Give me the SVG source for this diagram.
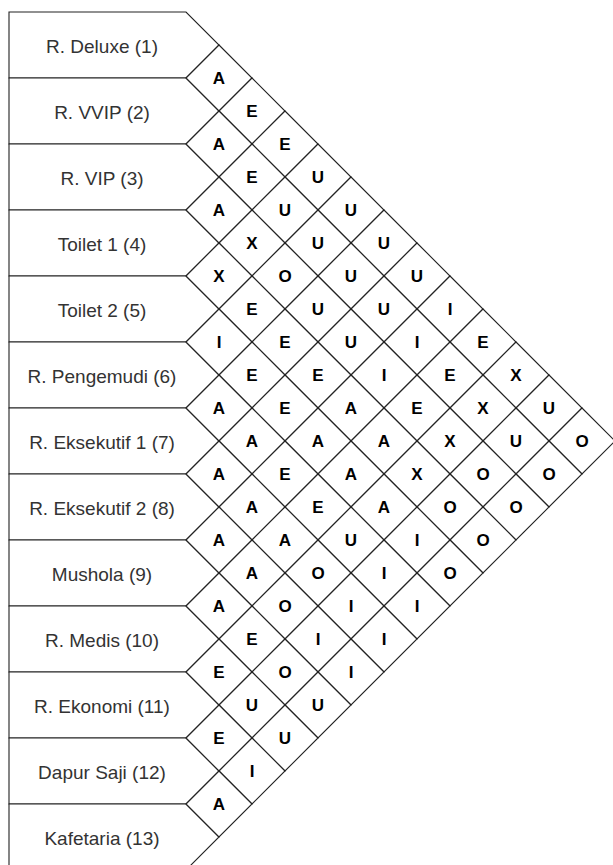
<svg xmlns="http://www.w3.org/2000/svg" xmlns:xlink="http://www.w3.org/1999/xlink" width="613" height="865" viewBox="0 0 613 865">
<style>
.shape{fill:#fff;stroke:#222;stroke-width:1.1}
.lbl{font-family:"Liberation Sans",Arial,sans-serif;font-size:19px;fill:#333;text-anchor:middle}
.rel{font-family:"Liberation Sans",Arial,sans-serif;font-size:17px;font-weight:bold;fill:#000;text-anchor:middle}
</style>
<defs>
<path id="row" d="M0,0 H177 L210,33 L177,66 H0 Z"/>
<path id="d" d="M0,-33 L33,0 L0,33 L-33,0 Z"/>
</defs>
<rect width="613" height="865" fill="#fff"/>
<g id="rooms">
<g id="room-1"><use href="#row" class="shape" x="9" y="12"/><text class="lbl" x="102" y="53">R. Deluxe (1)</text></g>
<g id="room-2"><use href="#row" class="shape" x="9" y="78"/><text class="lbl" x="102" y="119">R. VVIP (2)</text></g>
<g id="room-3"><use href="#row" class="shape" x="9" y="144"/><text class="lbl" x="102" y="185">R. VIP (3)</text></g>
<g id="room-4"><use href="#row" class="shape" x="9" y="210"/><text class="lbl" x="102" y="251">Toilet 1 (4)</text></g>
<g id="room-5"><use href="#row" class="shape" x="9" y="276"/><text class="lbl" x="102" y="317">Toilet 2 (5)</text></g>
<g id="room-6"><use href="#row" class="shape" x="9" y="342"/><text class="lbl" x="102" y="383">R. Pengemudi (6)</text></g>
<g id="room-7"><use href="#row" class="shape" x="9" y="408"/><text class="lbl" x="102" y="449">R. Eksekutif 1 (7)</text></g>
<g id="room-8"><use href="#row" class="shape" x="9" y="474"/><text class="lbl" x="102" y="515">R. Eksekutif 2 (8)</text></g>
<g id="room-9"><use href="#row" class="shape" x="9" y="540"/><text class="lbl" x="102" y="581">Mushola (9)</text></g>
<g id="room-10"><use href="#row" class="shape" x="9" y="606"/><text class="lbl" x="102" y="647">R. Medis (10)</text></g>
<g id="room-11"><use href="#row" class="shape" x="9" y="672"/><text class="lbl" x="102" y="713">R. Ekonomi (11)</text></g>
<g id="room-12"><use href="#row" class="shape" x="9" y="738"/><text class="lbl" x="102" y="779">Dapur Saji (12)</text></g>
<g id="room-13"><use href="#row" class="shape" x="9" y="804"/><text class="lbl" x="102" y="845">Kafetaria (13)</text></g>
</g>
<g id="relations">
<g id="c1-2"><use href="#d" class="shape" x="219" y="78"/><text class="rel" x="219" y="84">A</text></g>
<g id="c1-3"><use href="#d" class="shape" x="252" y="111"/><text class="rel" x="252" y="117">E</text></g>
<g id="c2-3"><use href="#d" class="shape" x="219" y="144"/><text class="rel" x="219" y="150">A</text></g>
<g id="c1-4"><use href="#d" class="shape" x="285" y="144"/><text class="rel" x="285" y="150">E</text></g>
<g id="c2-4"><use href="#d" class="shape" x="252" y="177"/><text class="rel" x="252" y="183">E</text></g>
<g id="c1-5"><use href="#d" class="shape" x="318" y="177"/><text class="rel" x="318" y="183">U</text></g>
<g id="c3-4"><use href="#d" class="shape" x="219" y="210"/><text class="rel" x="219" y="216">A</text></g>
<g id="c2-5"><use href="#d" class="shape" x="285" y="210"/><text class="rel" x="285" y="216">U</text></g>
<g id="c1-6"><use href="#d" class="shape" x="351" y="210"/><text class="rel" x="351" y="216">U</text></g>
<g id="c3-5"><use href="#d" class="shape" x="252" y="243"/><text class="rel" x="252" y="249">X</text></g>
<g id="c2-6"><use href="#d" class="shape" x="318" y="243"/><text class="rel" x="318" y="249">U</text></g>
<g id="c1-7"><use href="#d" class="shape" x="384" y="243"/><text class="rel" x="384" y="249">U</text></g>
<g id="c4-5"><use href="#d" class="shape" x="219" y="276"/><text class="rel" x="219" y="282">X</text></g>
<g id="c3-6"><use href="#d" class="shape" x="285" y="276"/><text class="rel" x="285" y="282">O</text></g>
<g id="c2-7"><use href="#d" class="shape" x="351" y="276"/><text class="rel" x="351" y="282">U</text></g>
<g id="c1-8"><use href="#d" class="shape" x="417" y="276"/><text class="rel" x="417" y="282">U</text></g>
<g id="c4-6"><use href="#d" class="shape" x="252" y="309"/><text class="rel" x="252" y="315">E</text></g>
<g id="c3-7"><use href="#d" class="shape" x="318" y="309"/><text class="rel" x="318" y="315">U</text></g>
<g id="c2-8"><use href="#d" class="shape" x="384" y="309"/><text class="rel" x="384" y="315">U</text></g>
<g id="c1-9"><use href="#d" class="shape" x="450" y="309"/><text class="rel" x="450" y="315">I</text></g>
<g id="c5-6"><use href="#d" class="shape" x="219" y="342"/><text class="rel" x="219" y="348">I</text></g>
<g id="c4-7"><use href="#d" class="shape" x="285" y="342"/><text class="rel" x="285" y="348">E</text></g>
<g id="c3-8"><use href="#d" class="shape" x="351" y="342"/><text class="rel" x="351" y="348">U</text></g>
<g id="c2-9"><use href="#d" class="shape" x="417" y="342"/><text class="rel" x="417" y="348">I</text></g>
<g id="c1-10"><use href="#d" class="shape" x="483" y="342"/><text class="rel" x="483" y="348">E</text></g>
<g id="c5-7"><use href="#d" class="shape" x="252" y="375"/><text class="rel" x="252" y="381">E</text></g>
<g id="c4-8"><use href="#d" class="shape" x="318" y="375"/><text class="rel" x="318" y="381">E</text></g>
<g id="c3-9"><use href="#d" class="shape" x="384" y="375"/><text class="rel" x="384" y="381">I</text></g>
<g id="c2-10"><use href="#d" class="shape" x="450" y="375"/><text class="rel" x="450" y="381">E</text></g>
<g id="c1-11"><use href="#d" class="shape" x="516" y="375"/><text class="rel" x="516" y="381">X</text></g>
<g id="c6-7"><use href="#d" class="shape" x="219" y="408"/><text class="rel" x="219" y="414">A</text></g>
<g id="c5-8"><use href="#d" class="shape" x="285" y="408"/><text class="rel" x="285" y="414">E</text></g>
<g id="c4-9"><use href="#d" class="shape" x="351" y="408"/><text class="rel" x="351" y="414">A</text></g>
<g id="c3-10"><use href="#d" class="shape" x="417" y="408"/><text class="rel" x="417" y="414">E</text></g>
<g id="c2-11"><use href="#d" class="shape" x="483" y="408"/><text class="rel" x="483" y="414">X</text></g>
<g id="c1-12"><use href="#d" class="shape" x="549" y="408"/><text class="rel" x="549" y="414">U</text></g>
<g id="c6-8"><use href="#d" class="shape" x="252" y="441"/><text class="rel" x="252" y="447">A</text></g>
<g id="c5-9"><use href="#d" class="shape" x="318" y="441"/><text class="rel" x="318" y="447">A</text></g>
<g id="c4-10"><use href="#d" class="shape" x="384" y="441"/><text class="rel" x="384" y="447">A</text></g>
<g id="c3-11"><use href="#d" class="shape" x="450" y="441"/><text class="rel" x="450" y="447">X</text></g>
<g id="c2-12"><use href="#d" class="shape" x="516" y="441"/><text class="rel" x="516" y="447">U</text></g>
<g id="c1-13"><use href="#d" class="shape" x="582" y="441"/><text class="rel" x="582" y="447">O</text></g>
<g id="c7-8"><use href="#d" class="shape" x="219" y="474"/><text class="rel" x="219" y="480">A</text></g>
<g id="c6-9"><use href="#d" class="shape" x="285" y="474"/><text class="rel" x="285" y="480">E</text></g>
<g id="c5-10"><use href="#d" class="shape" x="351" y="474"/><text class="rel" x="351" y="480">A</text></g>
<g id="c4-11"><use href="#d" class="shape" x="417" y="474"/><text class="rel" x="417" y="480">X</text></g>
<g id="c3-12"><use href="#d" class="shape" x="483" y="474"/><text class="rel" x="483" y="480">O</text></g>
<g id="c2-13"><use href="#d" class="shape" x="549" y="474"/><text class="rel" x="549" y="480">O</text></g>
<g id="c7-9"><use href="#d" class="shape" x="252" y="507"/><text class="rel" x="252" y="513">A</text></g>
<g id="c6-10"><use href="#d" class="shape" x="318" y="507"/><text class="rel" x="318" y="513">E</text></g>
<g id="c5-11"><use href="#d" class="shape" x="384" y="507"/><text class="rel" x="384" y="513">A</text></g>
<g id="c4-12"><use href="#d" class="shape" x="450" y="507"/><text class="rel" x="450" y="513">O</text></g>
<g id="c3-13"><use href="#d" class="shape" x="516" y="507"/><text class="rel" x="516" y="513">O</text></g>
<g id="c8-9"><use href="#d" class="shape" x="219" y="540"/><text class="rel" x="219" y="546">A</text></g>
<g id="c7-10"><use href="#d" class="shape" x="285" y="540"/><text class="rel" x="285" y="546">A</text></g>
<g id="c6-11"><use href="#d" class="shape" x="351" y="540"/><text class="rel" x="351" y="546">U</text></g>
<g id="c5-12"><use href="#d" class="shape" x="417" y="540"/><text class="rel" x="417" y="546">I</text></g>
<g id="c4-13"><use href="#d" class="shape" x="483" y="540"/><text class="rel" x="483" y="546">O</text></g>
<g id="c8-10"><use href="#d" class="shape" x="252" y="573"/><text class="rel" x="252" y="579">A</text></g>
<g id="c7-11"><use href="#d" class="shape" x="318" y="573"/><text class="rel" x="318" y="579">O</text></g>
<g id="c6-12"><use href="#d" class="shape" x="384" y="573"/><text class="rel" x="384" y="579">I</text></g>
<g id="c5-13"><use href="#d" class="shape" x="450" y="573"/><text class="rel" x="450" y="579">O</text></g>
<g id="c9-10"><use href="#d" class="shape" x="219" y="606"/><text class="rel" x="219" y="612">A</text></g>
<g id="c8-11"><use href="#d" class="shape" x="285" y="606"/><text class="rel" x="285" y="612">O</text></g>
<g id="c7-12"><use href="#d" class="shape" x="351" y="606"/><text class="rel" x="351" y="612">I</text></g>
<g id="c6-13"><use href="#d" class="shape" x="417" y="606"/><text class="rel" x="417" y="612">I</text></g>
<g id="c9-11"><use href="#d" class="shape" x="252" y="639"/><text class="rel" x="252" y="645">E</text></g>
<g id="c8-12"><use href="#d" class="shape" x="318" y="639"/><text class="rel" x="318" y="645">I</text></g>
<g id="c7-13"><use href="#d" class="shape" x="384" y="639"/><text class="rel" x="384" y="645">I</text></g>
<g id="c10-11"><use href="#d" class="shape" x="219" y="672"/><text class="rel" x="219" y="678">E</text></g>
<g id="c9-12"><use href="#d" class="shape" x="285" y="672"/><text class="rel" x="285" y="678">O</text></g>
<g id="c8-13"><use href="#d" class="shape" x="351" y="672"/><text class="rel" x="351" y="678">I</text></g>
<g id="c10-12"><use href="#d" class="shape" x="252" y="705"/><text class="rel" x="252" y="711">U</text></g>
<g id="c9-13"><use href="#d" class="shape" x="318" y="705"/><text class="rel" x="318" y="711">U</text></g>
<g id="c11-12"><use href="#d" class="shape" x="219" y="738"/><text class="rel" x="219" y="744">E</text></g>
<g id="c10-13"><use href="#d" class="shape" x="285" y="738"/><text class="rel" x="285" y="744">U</text></g>
<g id="c11-13"><use href="#d" class="shape" x="252" y="771"/><text class="rel" x="252" y="777">I</text></g>
<g id="c12-13"><use href="#d" class="shape" x="219" y="804"/><text class="rel" x="219" y="810">A</text></g>
</g>
</svg>
